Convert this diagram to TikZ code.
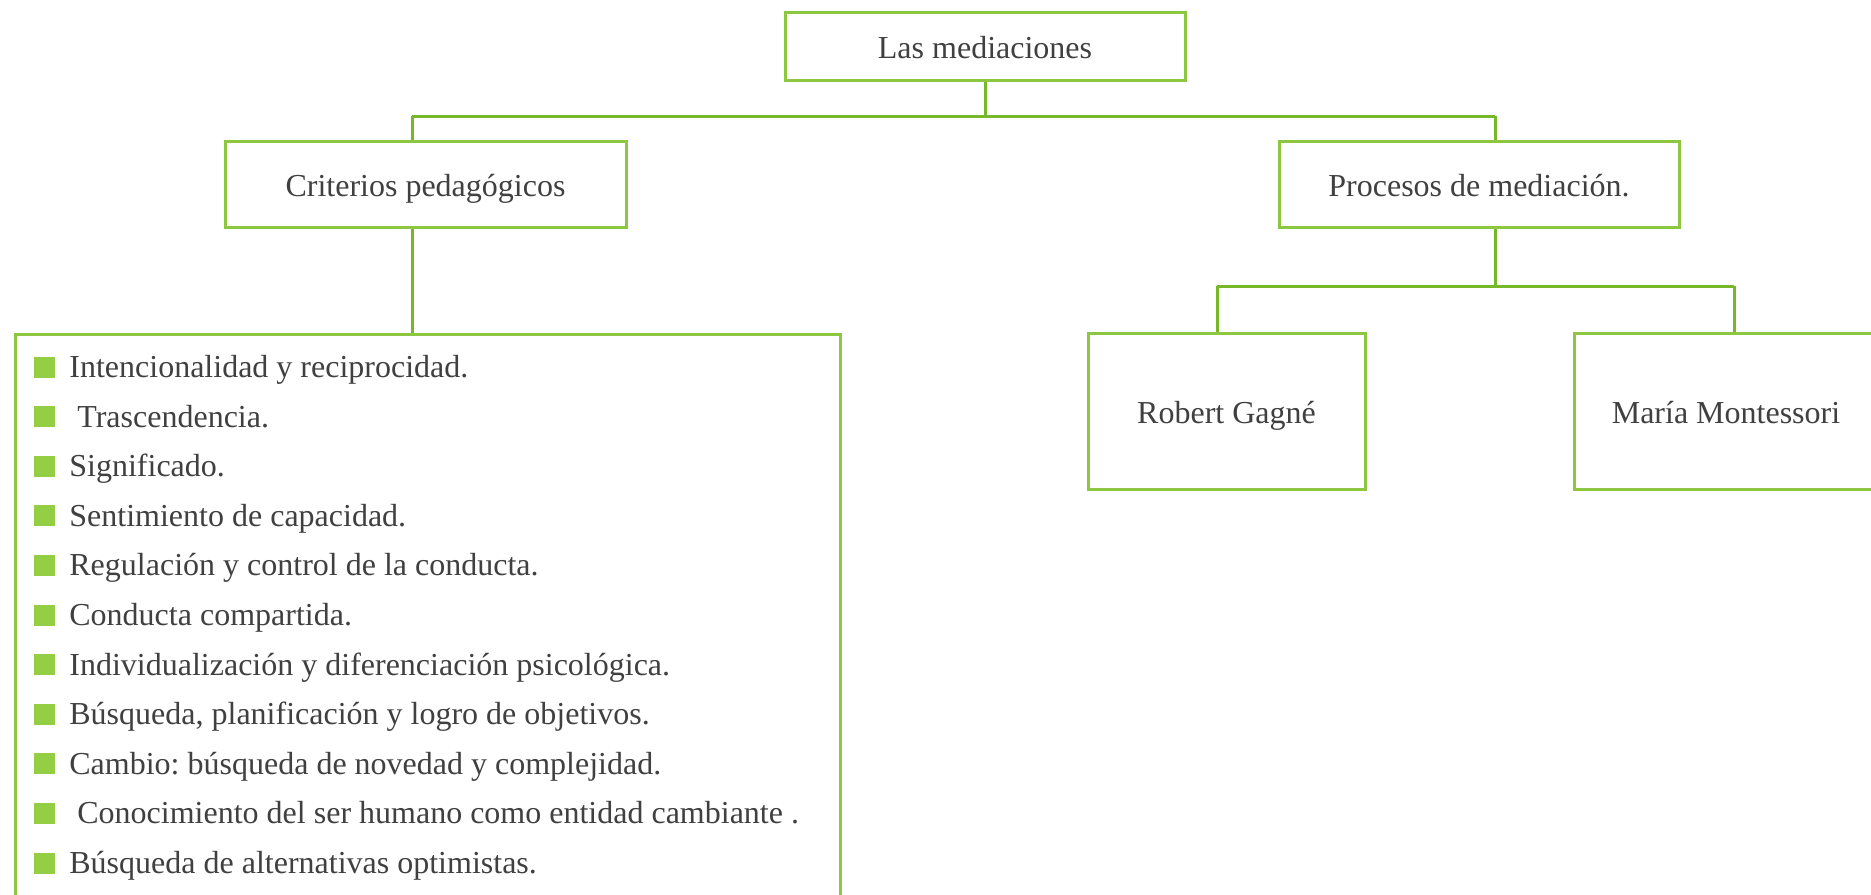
\documentclass[tikz,border=0pt]{standalone}
\usepackage{fontspec}
\setmainfont{Liberation Serif}
\frenchspacing
\usetikzlibrary{positioning,calc}
\definecolor{boxgreen}{RGB}{141,198,63}
\definecolor{linegreen}{RGB}{118,184,42}
\definecolor{bulletgreen}{RGB}{148,206,68}
\definecolor{txtgray}{RGB}{64,64,64}
\tikzset{
  box/.style={draw=boxgreen,line width=1.5pt,fill=white,text=txtgray,font=\fontsize{16}{19}\selectfont,inner sep=0pt,text height=12pt,text depth=0pt},
  link/.style={draw=linegreen,line width=1.5pt},
  sq/.style={fill=bulletgreen,minimum size=10.5pt,inner sep=0pt},
  entry/.style={text=txtgray,font=\fontsize{16}{19}\selectfont,inner sep=0pt,anchor=base west}
}
\begin{document}
\begin{tikzpicture}[x=0.5pt,y=-0.5pt]
		\clip (0,0) rectangle (1871,894);
		\node[box,minimum width=200pt,minimum height=34pt] (top) at (985,46) {Las mediaciones};
		\node[box,minimum width=200.5pt,minimum height=43pt] (crit) at (425.5,184) {Criterios pedagógicos};
		\node[box,minimum width=200pt,minimum height=43pt] (proc) at (1479,184) {Procesos de mediación.};
		\node[box,minimum width=138.5pt,minimum height=78pt] (gag) at (1226.5,411) {Robert Gagné};
		\node[box,minimum width=152pt,minimum height=78pt] (mont) at (1726,411) {María Montessori};
		\node[box,minimum width=412.5pt,minimum height=300pt,anchor=north west] (list) at (14,333) {};
		% connectors
		\coordinate (hubL) at (412,116);
		\coordinate (hubR) at (1495,116);
		\coordinate (subL) at (1217,286);
		\coordinate (subR) at (1734,286);
		\draw[link] (top.south) -- (top.south |- hubL);
		\draw[link] (hubL) -- (hubR);
		\draw[link] (hubL) -- (hubL |- crit.north);
		\draw[link] (hubR) -- (hubR |- proc.north);
		\draw[link] (hubL |- crit.south) -- (hubL |- list.north);
		\draw[link] (hubR |- proc.south) -- (hubR |- subL);
		\draw[link] (subL) -- (subR);
		\draw[link] (subL) -- (subL |- gag.north);
		\draw[link] (subR) -- (subR |- mont.north);
		% list
		\foreach \t [count=\i] in {Intencionalidad y reciprocidad.,
			{\ Trascendencia.},
			Significado.,
			Sentimiento de capacidad.,
			Regulación y control de la conducta.,
			Conducta compartida.,
			Individualización y diferenciación psicológica.,
			{Búsqueda, planificación y logro de objetivos.},
			Cambio: búsqueda de novedad y complejidad.,
			{\ Conocimiento del ser humano como entidad cambiante .},
			Búsqueda de alternativas optimistas.} {
			\pgfmathsetmacro\yy{367+(\i-1)*49.6}
			\node[sq] (b\i) at (44.5,\yy) {};
			\node[entry] (t\i) at (69,\yy+10.5) {\t};
		}
	\end{tikzpicture}
\end{document}
